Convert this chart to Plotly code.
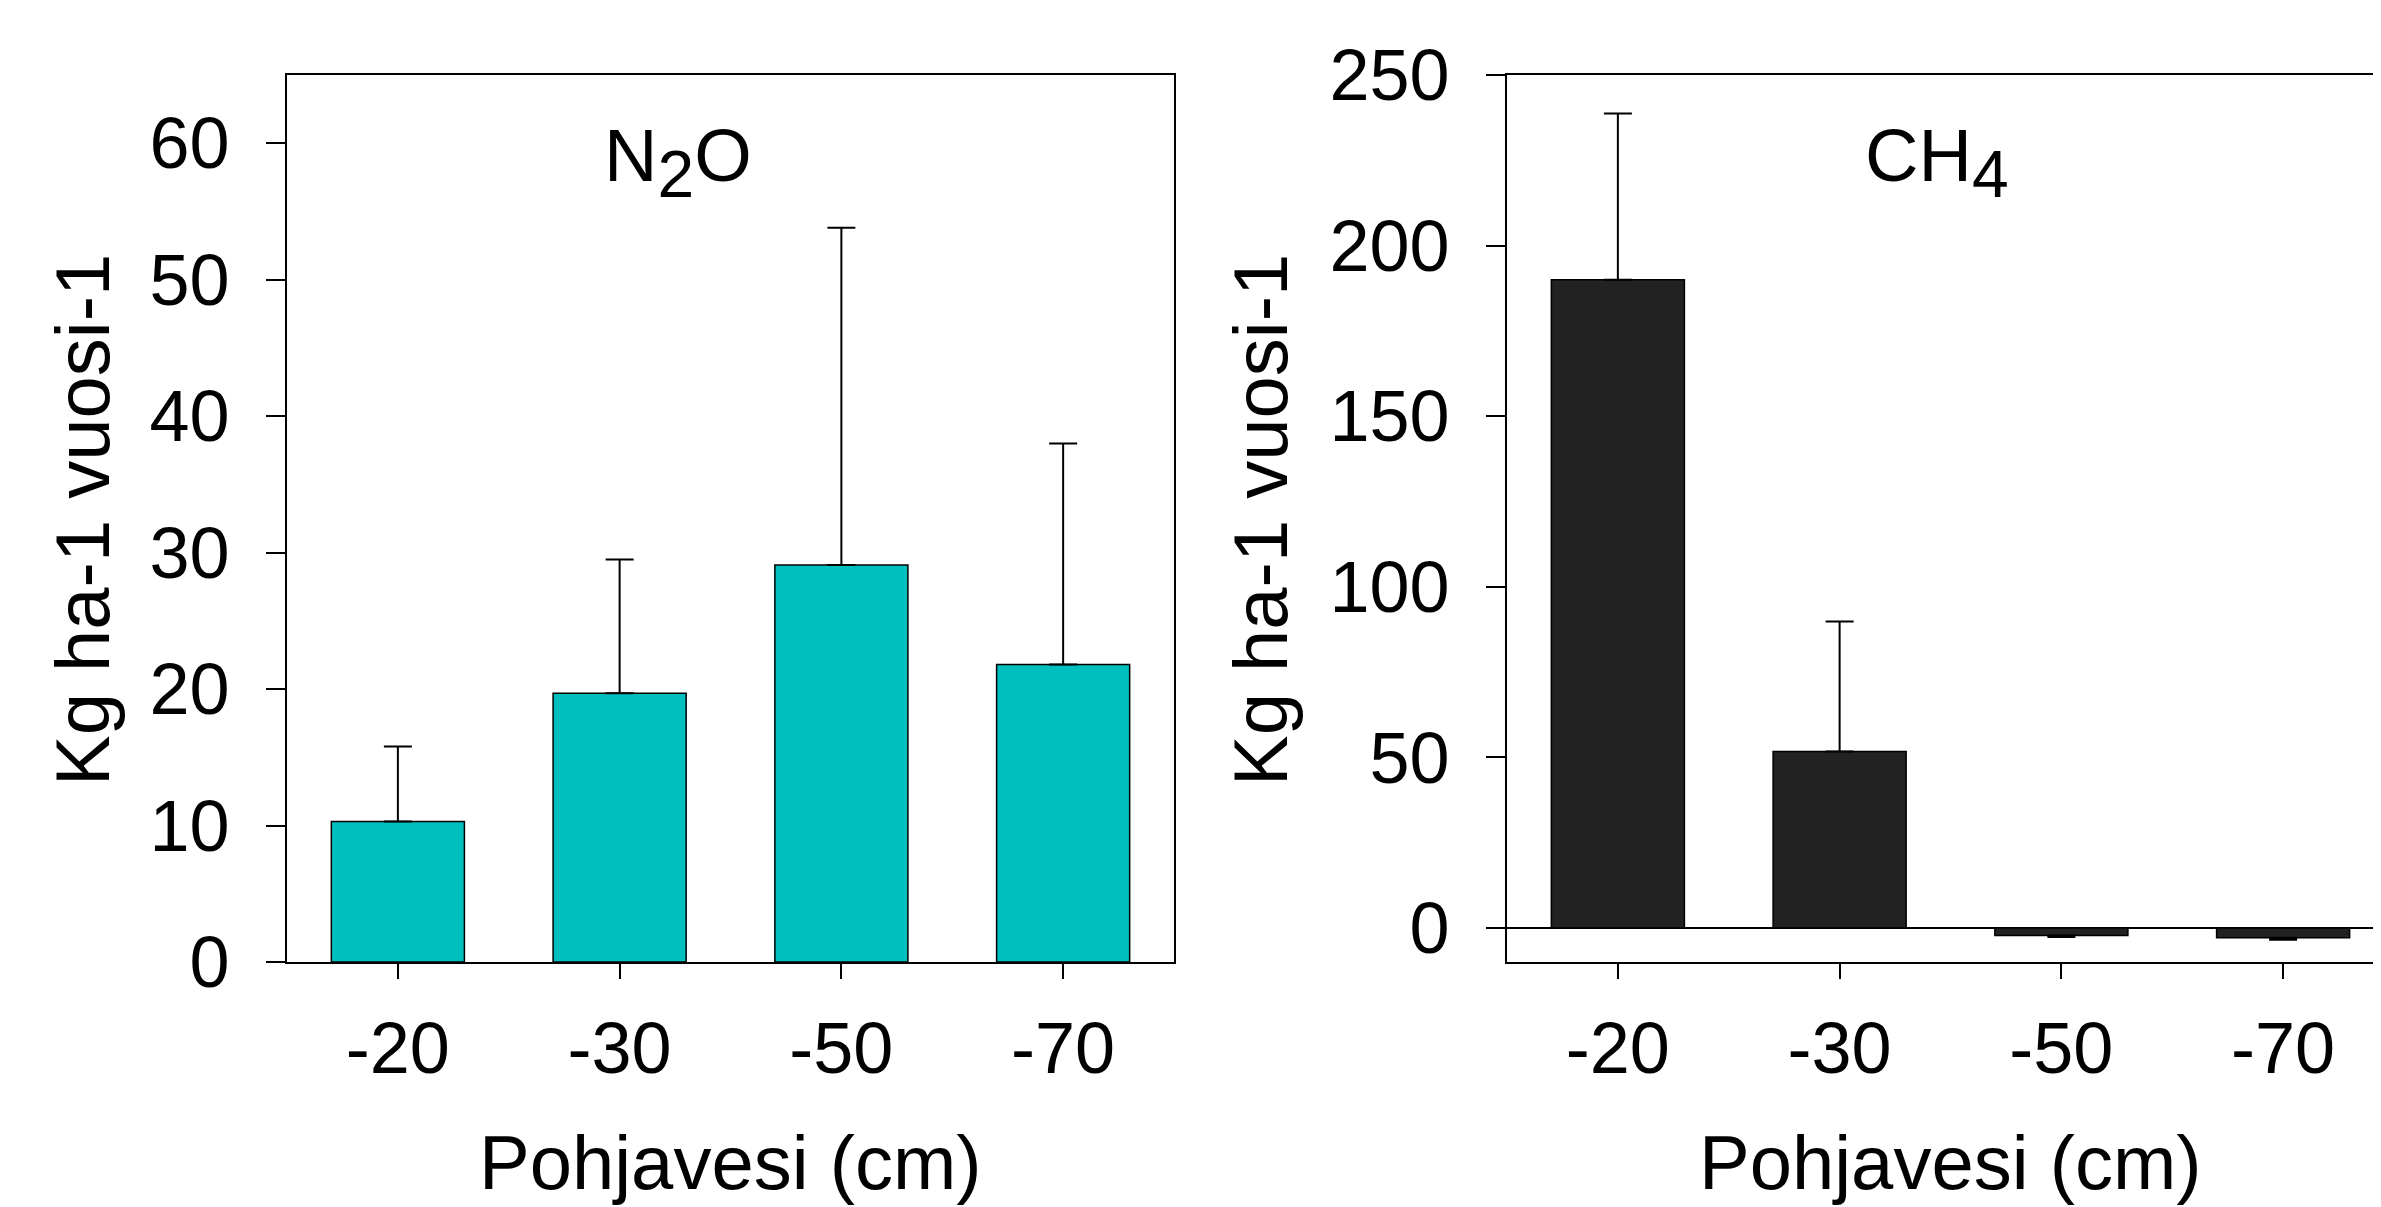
import plotly.graph_objects as go

# ---- data ----
categories = ["-20", "-30", "-50", "-70"]
n2o_values = [10.3, 19.7, 29.1, 21.8]
n2o_err = [5.5, 9.8, 24.7, 16.2]
ch4_values = [190.0, 51.7, -2.2, -2.9]
ch4_err = [48.7, 38.1, 0.5, 0.6]
n2o_yticks = [0, 10, 20, 30, 40, 50, 60]
ch4_yticks = [0, 50, 100, 150, 200, 250]
y_title = "Kg ha-1 vuosi-1"
x_title = "Pohjavesi (cm)"

# page is 2381x1207; the html body has an 8px margin
OFF = 8
W, H = 2381 - OFF, 1207 - OFF
FONT = "Liberation Sans, Arial, sans-serif"


def fx(p):
    return (p - OFF) / W


def fy(p):
    return 1 - (p - OFF) / H


ch4_plus = [e if v >= 0 else 0 for v, e in zip(ch4_values, ch4_err)]
ch4_minus = [e if v < 0 else 0 for v, e in zip(ch4_values, ch4_err)]

fig = go.Figure()
fig.add_trace(go.Bar(
    x=categories, y=n2o_values, width=0.6,
    marker=dict(color="#00BFBF", line=dict(color="black", width=1.5)),
    error_y=dict(type="data", symmetric=False, array=n2o_err,
                 arrayminus=[0] * len(n2o_err), color="black", thickness=2, width=14),
    xaxis="x", yaxis="y", showlegend=False))
fig.add_trace(go.Bar(
    x=categories, y=ch4_values, width=0.6,
    marker=dict(color="#222222", line=dict(color="black", width=1.5)),
    error_y=dict(type="data", symmetric=False, array=ch4_plus,
                 arrayminus=ch4_minus, color="black", thickness=2, width=14),
    xaxis="x2", yaxis="y2", showlegend=False))

tickfont = dict(family=FONT, size=72, color="black")
ydom = [fy(962), fy(75)]
common_x = dict(type="category", showline=True, linecolor="black", linewidth=2,
                ticks="outside", ticklen=15, tickwidth=2, tickcolor="black",
                tickfont=tickfont, showgrid=False, zeroline=False,
                ticklabelstandoff=8, automargin=False)
common_y = dict(showline=True, linecolor="black", linewidth=2,
                ticks="outside", ticklen=19, tickwidth=2, tickcolor="black",
                tickfont=tickfont, showgrid=False, ticklabelstandoff=22,
                automargin=False)

fig.update_layout(
    width=W, height=H, autosize=False,
    margin=dict(l=0, r=0, t=0, b=0, pad=0, autoexpand=False),
    paper_bgcolor="white", plot_bgcolor="white",
    font=dict(family=FONT, color="black"),
    xaxis=dict(domain=[fx(287), fx(1174)], anchor="y", range=[-0.5, 3.5],
               mirror=True, **common_x),
    yaxis=dict(domain=ydom, anchor="x", range=[0, 65], tickvals=n2o_yticks,
               mirror=True, zeroline=False, **common_y),
    xaxis2=dict(domain=[fx(1507), 1.0], anchor="y2", range=[-0.5, 3.4414],
                mirror=True, **common_x),
    yaxis2=dict(domain=ydom, anchor="x2", range=[-10, 250], tickvals=ch4_yticks,
                mirror=False, zeroline=True, zerolinecolor="black",
                zerolinewidth=2, **common_y),
    bargap=0.4,
)

ann_font_t = dict(family=FONT, size=76, color="black")
ann_font_p = dict(family=FONT, size=74, color="black")
sub2 = "<sub><span style='font-size:66px'>2</span></sub>"
sub4 = "<sub><span style='font-size:66px'>4</span></sub>"
annotations = [
    dict(text="N" + sub2 + "O", x=fx(678), y=fy(163), xref="paper", yref="paper",
         xanchor="center", yanchor="middle", showarrow=False, font=ann_font_p),
    dict(text="CH" + sub4, x=fx(1937), y=fy(163), xref="paper", yref="paper",
         xanchor="center", yanchor="middle", showarrow=False, font=ann_font_p),
    dict(text=y_title, x=fx(82), y=fy(520), xref="paper", yref="paper",
         xanchor="center", yanchor="middle", textangle=-90, showarrow=False,
         font=ann_font_t),
    dict(text=y_title, x=fx(1260), y=fy(520), xref="paper", yref="paper",
         xanchor="center", yanchor="middle", textangle=-90, showarrow=False,
         font=ann_font_t),
    dict(text=x_title, x=fx(730), y=fy(1162), xref="paper", yref="paper",
         xanchor="center", yanchor="middle", showarrow=False, font=ann_font_t),
    dict(text=x_title, x=fx(1950), y=fy(1162), xref="paper", yref="paper",
         xanchor="center", yanchor="middle", showarrow=False, font=ann_font_t),
]
fig.update_layout(annotations=annotations)

fig.write_html("out.html")
